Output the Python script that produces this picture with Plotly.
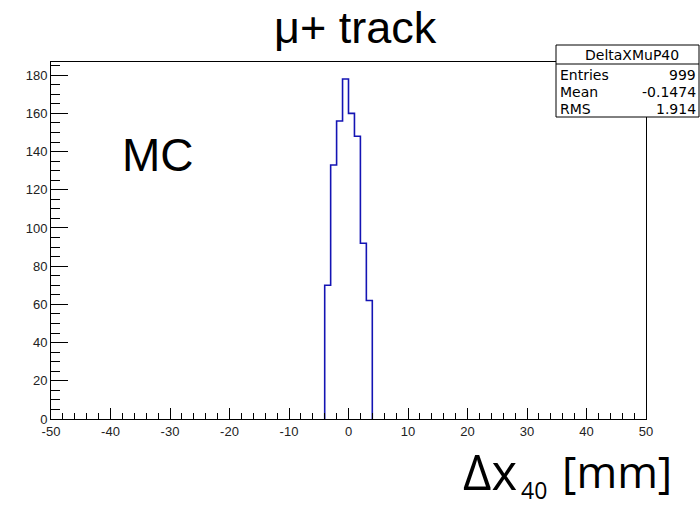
import numpy as np
import plotly.graph_objects as go

# ---- data ----
bin_edges = [-4, -3, -2, -1, 0, 1, 2, 3, 4]
counts = [70, 133, 156, 178, 160, 148, 92, 62]
hist_name = "DeltaXMuP40"
stat_labels = ["Entries", "Mean", "RMS"]
stat_values = ["999", "-0.1474", "1.914"]
x_range = [-50, 50]
x_ticks = [-50, -40, -30, -20, -10, 0, 10, 20, 30, 40, 50]
x_ticktext = ["-50", "-40", "-30", "-20", "-10", "0", "10", "20", "30", "40", "50"]
y_ticks = [0, 20, 40, 60, 80, 100, 120, 140, 160, 180]
y_max = 1.05 * max(counts)

W, H = 700, 507
L, R, T, B = 51, 54, 62, 88
PW, PH = W - L - R, H - T - B


def px(xp):
    return (xp - L) / PW


def py(yp):
    return (H - B - yp) / PH


# step outline of histogram
xs = [bin_edges[0]] + list(bin_edges[:-1]) + [bin_edges[-1]]
ys = [0] + list(counts) + [0]

fig = go.Figure()
fig.add_trace(go.Scatter(x=xs, y=ys, mode="lines", line=dict(color="#1414b4", width=1.6, shape="hv"),
                         hoverinfo="skip", showlegend=False))

tickfont = dict(family="Liberation Sans, Arial, sans-serif", size=13, color="#222")
fig.update_xaxes(range=x_range, tickvals=x_ticks, ticktext=x_ticktext, ticks="inside", ticklen=11, tickwidth=1,
                 tickcolor="black",
                 minor=dict(dtick=2, ticks="inside", ticklen=6, tickwidth=1, tickcolor="black"),
                 showline=True, linecolor="black", linewidth=1, mirror=True, showgrid=False, zeroline=False,
                 tickfont=tickfont)
fig.update_yaxes(range=[0, y_max], tickvals=y_ticks, ticks="inside", ticklen=17, tickwidth=1, tickcolor="black",
                 minor=dict(dtick=5, ticks="inside", ticklen=9, tickwidth=1, tickcolor="black"),
                 showline=True, linecolor="black", linewidth=1, mirror=True, showgrid=False, zeroline=False,
                 tickfont=tickfont)

shapes = []
# stats box
bx0, bx1, by0, by1 = 556, 699, 45, 117
shapes.append(dict(type="rect", xref="paper", yref="paper", x0=px(bx0), x1=px(bx1), y0=py(by1), y1=py(by0),
                   line=dict(color="black", width=1), fillcolor="white", layer="above"))
shapes.append(dict(type="line", xref="paper", yref="paper", x0=px(bx0), x1=px(bx1), y0=py(64), y1=py(64),
                   line=dict(color="black", width=1), layer="above"))

annots = []
sfont = dict(family="DejaVu Sans, sans-serif", size=14, color="black")
annots.append(dict(text=hist_name, xref="paper", yref="paper", x=px((bx0 + bx1) / 2 + 4), y=py(55),
                   xanchor="center", yanchor="middle", showarrow=False, font=sfont))
for i, (lab, val) in enumerate(zip(stat_labels, stat_values)):
    yy = py(75 + i * 17)
    annots.append(dict(text=lab, xref="paper", yref="paper", x=px(bx0 + 2), y=yy, xanchor="left",
                       yanchor="middle", showarrow=False, font=sfont))
    annots.append(dict(text=val, xref="paper", yref="paper", x=px(bx1 - 1), y=yy, xanchor="right",
                       yanchor="middle", showarrow=False, font=sfont))

big = "Liberation Sans, Arial, sans-serif"
annots.append(dict(text="μ+ track", xref="paper", yref="paper", x=px(355), y=py(28), xanchor="center",
                   yanchor="middle", showarrow=False, font=dict(family=big, size=45, color="black")))
annots.append(dict(text="MC", xref="paper", yref="paper", x=px(120), y=py(155), xanchor="left",
                   yanchor="middle", showarrow=False, font=dict(family=big, size=46, color="black")))
afont = "Open Sans, sans-serif"
annots.append(dict(text="Δx", xref="paper", yref="paper", x=px(461), y=py(471),
                   xanchor="left", yanchor="middle", showarrow=False,
                   font=dict(family=afont, size=49, color="black")))
annots.append(dict(text="40", xref="paper", yref="paper", x=px(520), y=py(507),
                   xanchor="left", yanchor="bottom", showarrow=False, borderpad=0,
                   font=dict(family=afont, size=23, color="black")))
annots.append(dict(text="[mm]", xref="paper", yref="paper", x=px(560), y=py(471),
                   xanchor="left", yanchor="middle", showarrow=False,
                   font=dict(family=afont, size=44, color="black")))

fig.update_layout(width=W, height=H, margin=dict(l=L, r=R, t=T, b=B), paper_bgcolor="white",
                  plot_bgcolor="white", shapes=shapes, annotations=annots, showlegend=False)

fig.write_html("out.html")
